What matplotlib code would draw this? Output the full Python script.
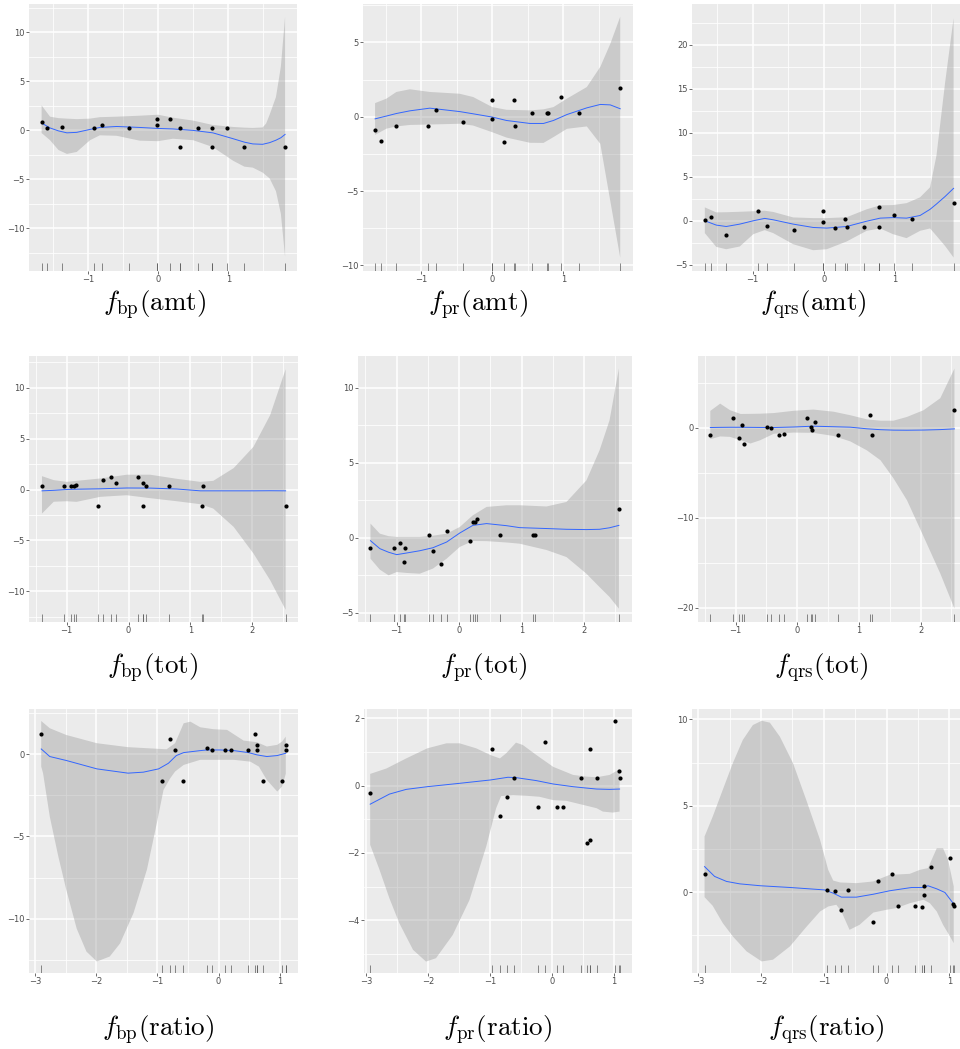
import numpy as np
import matplotlib
matplotlib.use("Agg")
import matplotlib.pyplot as plt

plt.rcParams['mathtext.fontset'] = 'cm'
plt.rcParams['font.family'] = ['DejaVu Sans']

# --- data: (x, y) pairs ---
bp_amt_pts = [(-1.66,0.85),(-1.58,0.24),(-1.37,0.34),(-0.91,0.24),(-0.80,0.55),(-0.42,0.24),(-0.01,1.19),(-0.01,0.55),(0.17,1.19),
              (0.31,0.24),(0.31,-1.70),(0.57,0.24),(0.77,0.24),(0.77,-1.70),(0.98,0.24),(1.23,-1.70),(1.81,-1.70)]
bp_amt_fit = [(-1.66,0.75),(-1.54,0.25),(-1.42,-0.05),(-1.30,-0.25),(-1.16,-0.2),(-0.97,0.1),(-0.83,0.3),(-0.59,0.4),(-0.26,0.3),(0.0,0.2),
              (0.21,0.15),(0.50,0.0),(0.78,-0.25),(1.07,-0.85),(1.23,-1.2),(1.35,-1.38),(1.49,-1.42),(1.59,-1.25),(1.68,-1.0),(1.75,-0.75),(1.81,-0.41)]
bp_amt_up = [(-1.66,2.55),(-1.54,1.4),(-1.42,1.25),(-1.30,1.2),(-1.16,1.15),(-0.97,1.2),(-0.83,1.35),(-0.59,1.4),(-0.26,1.5),(0.0,1.6),
             (0.21,1.3),(0.50,1.0),(0.78,0.55),(1.07,0.35),(1.23,0.28),(1.35,0.25),(1.49,0.3),(1.54,0.7),(1.59,1.6),(1.68,3.4),(1.75,6.5),(1.81,11.6)]
bp_amt_lo = [(-1.66,-0.27),(-1.54,-1.0),(-1.42,-2.0),(-1.30,-2.4),(-1.16,-2.2),(-0.97,-1.0),(-0.83,-0.5),(-0.59,-0.55),(-0.26,-1.05),(0.0,-1.1),
             (0.21,-0.85),(0.50,-1.0),(0.78,-1.7),(1.07,-3.1),(1.23,-3.7),(1.35,-3.8),(1.49,-4.3),(1.59,-4.9),(1.68,-6.2),(1.75,-8.5),(1.81,-12.9)]

pr_amt_pts = [(-1.65,-0.88),(-1.57,-1.62),(-1.36,-0.63),(-0.91,-0.63),(-0.79,0.45),(-0.41,-0.32),(-0.01,1.10),(-0.01,-0.18),(0.16,-1.71),
              (0.30,1.10),(0.32,-0.63),(0.56,0.25),(0.77,0.25),(0.78,0.25),(0.97,1.31),(1.22,0.25),(1.80,1.96)]
pr_amt_x = [-1.65,-1.49,-1.35,-1.16,-0.88,-0.46,-0.27,0.0,0.20,0.53,0.72,0.86,1.05,1.33,1.52,1.66,1.80]
pr_amt_fit = [-0.14,0.05,0.22,0.4,0.58,0.35,0.2,-0.02,-0.25,-0.45,-0.45,-0.25,0.15,0.6,0.83,0.8,0.54]
pr_amt_up = [0.92,1.22,1.67,1.85,1.67,1.55,1.33,0.65,0.47,0.43,0.5,0.65,1.22,2.0,3.36,4.9,6.73]
pr_amt_lo = [-1.22,-0.8,-0.65,-0.55,-0.52,-0.47,-0.59,-1.04,-1.4,-1.75,-1.76,-1.37,-0.81,-0.65,-1.82,-5.65,-9.48]

qrs_amt_pts = [(-1.67,0.08),(-1.59,0.38),(-1.38,-1.67),(-0.92,1.06),(-0.80,-0.61),(-0.42,-1.02),(-0.01,1.06),(-0.01,-0.15),(0.16,-0.80),
               (0.30,0.15),(0.32,-0.76),(0.57,-0.76),(0.78,1.52),(0.78,-0.76),(0.99,0.68),(1.24,0.15),(1.82,2.01)]
qrs_amt_x = [-1.67,-1.51,-1.37,-1.18,-0.99,-0.83,-0.71,-0.43,-0.15,0.04,0.32,0.60,0.79,0.97,1.16,1.35,1.49,1.58,1.70,1.82]
qrs_amt_fit = [0,-0.49,-0.65,-0.38,0,0.27,0.11,-0.38,-0.76,-0.83,-0.65,-0.05,0.3,0.36,0.3,0.6,1.3,1.9,2.75,3.68]
qrs_amt_up = [1.52,0.95,0.97,1.02,1.08,1.14,1.0,0.38,0.3,0.3,0.4,1.3,1.75,1.78,2.0,2.66,3.8,7.4,15.6,23.0]
qrs_amt_lo = [-1.40,-2.96,-3.23,-2.92,-1.52,-1.06,-1.40,-2.66,-3.34,-3.23,-2.35,-1.14,-0.87,-1.52,-1.97,-1.14,-0.87,-1.71,-2.85,-4.17]

bp_tot_pts = [(-1.40,0.33),(-1.04,0.33),(-0.93,0.33),(-0.88,0.33),(-0.85,0.46),(-0.49,-1.60),(-0.42,0.92),(-0.29,1.24),(-0.20,0.59),
              (0.16,1.24),(0.24,0.59),(0.23,-1.60),(0.28,0.33),(0.66,0.33),(1.19,-1.60),(1.20,0.33),(2.54,-1.60)]
bp_tot_x = [-1.40,-1.21,-1.0,-0.84,-0.46,-0.03,0.35,0.78,1.16,1.37,1.70,2.02,2.29,2.54]
bp_tot_fit = [-0.13,-0.08,0,0.03,0.07,0.15,0.14,0.05,-0.13,-0.13,-0.13,-0.13,-0.12,-0.13]
bp_tot_up = [1.31,0.92,0.75,0.85,1.08,1.45,1.45,1.05,0.75,0.85,2.1,4.19,7.3,11.8]
bp_tot_lo = [-2.36,-1.2,-1.15,-1.21,-0.72,-0.56,-0.85,-1.15,-1.44,-1.87,-3.67,-6.28,-8.9,-11.8]

pr_tot_pts = [(-1.42,-0.64),(-1.05,-0.64),(-0.95,-0.33),(-0.89,-1.62),(-0.86,-0.64),(-0.49,0.22),(-0.42,-0.89),(-0.29,-1.73),(-0.20,0.44),
              (0.17,-0.22),(0.22,1.07),(0.25,1.07),(0.28,1.29),(0.66,0.22),(1.19,0.22),(1.21,0.22),(2.56,1.96)]
pr_tot_x = [-1.42,-1.27,-1.13,-1.00,-0.84,-0.63,-0.42,-0.20,0.01,0.22,0.44,0.76,0.97,1.40,1.72,2.04,2.25,2.41,2.56]
pr_tot_fit = [-0.18,-0.71,-0.95,-1.11,-1.0,-0.85,-0.65,-0.27,0.33,0.84,0.96,0.82,0.69,0.63,0.58,0.56,0.58,0.68,0.84]
pr_tot_up = [0.96,0.29,0.12,0.07,0.07,0.07,0.15,0.29,0.73,1.51,2.07,2.18,2.18,2.1,2.4,3.84,5.84,7.84,11.3]
pr_tot_lo = [-1.38,-2.11,-2.49,-2.27,-2.33,-2.38,-2.04,-1.38,-0.60,-0.20,-0.21,-0.30,-0.38,-0.80,-1.27,-2.38,-3.27,-3.93,-4.71]

qrs_tot_pts = [(-1.41,-0.78),(-1.04,1.08),(-0.94,-1.08),(-0.89,0.37),(-0.86,-1.74),(-0.49,0.15),(-0.42,0.04),(-0.29,-0.82),(-0.21,-0.63),
               (0.16,1.08),(0.22,0.15),(0.24,-0.19),(0.28,0.63),(0.66,-0.78),(1.18,1.48),(1.21,-0.78),(2.55,1.97)]
qrs_tot_x = [-1.41,-1.25,-1.09,-0.92,-0.76,-0.60,-0.38,-0.06,0.26,0.59,0.86,1.13,1.35,1.56,1.78,2.05,2.32,2.55]
qrs_tot_fit = [0.04,0.06,0.07,0.07,0.06,0.05,0.04,0.1,0.19,0.13,0.08,-0.1,-0.2,-0.25,-0.26,-0.24,-0.19,-0.11]
qrs_tot_up = [1.89,2.7,1.97,1.55,1.56,1.58,1.65,1.9,2.04,1.8,1.41,0.95,0.8,0.8,1.22,1.97,3.3,6.6]
qrs_tot_lo = [-1.26,-0.95,-1.0,-1.37,-1.74,-1.37,-0.65,-0.52,-0.55,-0.9,-1.5,-2.5,-3.6,-5.6,-8.05,-12.1,-16.2,-20.1]

bp_ratio_pts = [(-2.90,1.23),(-0.93,-1.64),(-0.80,0.91),(-0.71,0.26),(-0.58,-1.64),(-0.19,0.38),(-0.10,0.26),(0.11,0.26),(0.20,0.26),
                (0.49,0.26),(0.59,1.23),(0.63,0.59),(0.63,0.26),(0.73,-1.64),(1.04,-1.64),(1.10,0.59),(1.10,0.26)]
bp_ratio_fit = [(-2.90,0.32),(-2.76,-0.14),(-2.49,-0.38),(-1.99,-0.89),(-1.48,-1.15),(-1.23,-1.09),(-0.98,-0.89),(-0.82,-0.55),(-0.69,-0.08),
                (-0.57,0.10),(-0.30,0.22),(-0.19,0.26),(0.03,0.26),(0.25,0.22),(0.49,0.10),(0.63,-0.04),(0.79,-0.14),(0.96,-0.08),(1.10,0.06)]
bp_ratio_up = [(-2.90,2.02),(-2.76,1.58),(-2.49,1.17),(-1.99,0.67),(-1.48,0.43),(-0.85,0.30),(-0.71,0.67),(-0.57,1.88),(-0.46,1.98),
               (-0.30,1.64),(-0.08,1.52),(0.14,1.48),(0.41,0.83),(0.63,0.73),(0.79,0.47),(0.96,0.57),(1.04,0.77),(1.10,1.07)]
bp_ratio_lo = [(-2.90,-0.75),(-2.87,-1.15),(-2.76,-3.79),(-2.62,-6.22),(-2.49,-8.24),(-2.32,-10.6),(-2.16,-12.0),(-1.99,-12.6),(-1.78,-12.3),
               (-1.61,-11.5),(-1.39,-9.65),(-1.17,-7.0),(-1.01,-4.2),(-0.90,-2.17),(-0.79,-1.46),(-0.71,-1.05),(-0.57,-0.65),(-0.30,-0.34),
               (-0.03,-0.34),(0.25,-0.34),(0.52,-0.45),(0.66,-0.75),(0.79,-1.56),(0.96,-2.27),(1.04,-1.96),(1.10,-1.19)]

pr_ratio_pts = [(-2.93,-0.21),(-0.96,1.08),(-0.83,-0.89),(-0.73,-0.34),(-0.61,0.22),(-0.22,-0.63),(-0.12,1.29),(0.08,-0.63),(0.18,-0.63),
                (0.47,0.22),(0.57,-1.70),(0.61,1.08),(0.62,-1.62),(0.72,0.22),(1.02,1.93),(1.08,0.44),(1.09,0.22)]
pr_ratio_fit = [(-2.93,-0.55),(-2.62,-0.25),(-2.35,-0.11),(-2.01,-0.03),(-1.49,0.07),(-0.99,0.17),(-0.71,0.25),(-0.58,0.24),(-0.25,0.15),
                (0.02,0.05),(0.34,-0.03),(0.55,-0.07),(0.72,-0.10),(0.93,-0.11),(1.09,-0.10)]
pr_ratio_up = [(-2.93,0.35),(-2.67,0.51),(-2.35,0.81),(-2.01,1.11),(-1.70,1.26),(-1.49,1.26),(-1.22,1.11),(-0.99,0.91),(-0.84,0.81),
               (-0.74,0.96),(-0.58,1.28),(-0.47,1.21),(-0.25,0.91),(0.02,0.56),(0.34,0.32),(0.55,0.27),(0.72,0.25),(0.93,0.32),(1.09,0.49)]
pr_ratio_lo = [(-2.93,-1.76),(-2.78,-2.50),(-2.62,-3.35),(-2.46,-4.09),(-2.24,-4.88),(-2.03,-5.23),(-1.87,-5.13),(-1.60,-4.44),(-1.33,-3.40),
               (-1.06,-1.81),(-0.90,-0.67),(-0.82,-0.31),(-0.63,-0.28),(-0.41,-0.30),(-0.20,-0.33),(0.02,-0.43),(0.23,-0.45),(0.50,-0.57),
               (0.72,-0.67),(0.82,-0.77),(0.98,-0.80),(1.09,-0.77)]

qrs_ratio_pts = [(-2.90,1.06),(-0.95,0.13),(-0.82,0.04),(-0.73,-1.06),(-0.61,0.13),(-0.21,-1.71),(-0.13,0.64),(0.08,1.06),(0.18,-0.79),
                 (0.46,-0.79),(0.56,-0.85),(0.60,0.37),(0.60,-0.19),(0.70,1.46),(1.01,1.97),(1.06,-0.67),(1.07,-0.79)]
qrs_ratio_fit = [(-2.90,1.48),(-2.74,0.91),(-2.55,0.62),(-2.34,0.48),(-2.01,0.37),(-1.54,0.27),(-0.99,0.13),(-0.85,-0.06),(-0.72,-0.29),
                 (-0.48,-0.29),(-0.21,-0.12),(0.05,0.08),(0.40,0.27),(0.59,0.27),(0.66,0.37),(0.80,0.19),(0.93,-0.02),(1.07,-0.69)]
qrs_ratio_up = [(-2.90,3.22),(-2.77,4.37),(-2.61,5.92),(-2.45,7.46),(-2.29,8.81),(-2.13,9.67),(-1.99,9.92),(-1.86,9.81),(-1.70,9.0),
                (-1.49,7.46),(-1.28,5.34),(-1.06,3.03),(-0.93,1.29),(-0.85,0.67),(-0.74,0.56),(-0.48,0.52),(-0.21,0.62),(-0.11,0.77),
                (0.05,1.0),(0.37,1.06),(0.53,1.29),(0.66,1.39),(0.80,2.54),(0.90,2.54),(0.98,1.87),(1.07,0.33)]
qrs_ratio_lo = [(-2.90,-0.29),(-2.77,-0.79),(-2.61,-1.79),(-2.45,-2.56),(-2.23,-3.43),(-1.99,-4.01),(-1.81,-3.91),(-1.54,-3.14),(-1.28,-2.02),
                (-1.06,-1.12),(-0.93,-0.83),(-0.80,-0.73),(-0.72,-1.12),(-0.59,-2.18),(-0.43,-1.89),(-0.21,-1.18),(0.0,-1.02),(0.16,-0.92),
                (0.37,-0.64),(0.59,-0.44),(0.69,-0.64),(0.80,-1.12),(0.90,-1.89),(1.01,-2.56),(1.07,-2.95)]

labels = [r'$f_{\mathrm{bp}}(\mathrm{amt})$', r'$f_{\mathrm{pr}}(\mathrm{amt})$', r'$f_{\mathrm{qrs}}(\mathrm{amt})$',
          r'$f_{\mathrm{bp}}(\mathrm{tot})$', r'$f_{\mathrm{pr}}(\mathrm{tot})$', r'$f_{\mathrm{qrs}}(\mathrm{tot})$',
          r'$f_{\mathrm{bp}}(\mathrm{ratio})$', r'$f_{\mathrm{pr}}(\mathrm{ratio})$', r'$f_{\mathrm{qrs}}(\mathrm{ratio})$']


def pairs(p):
    a = np.array(p, dtype=float)
    return a[:, 0], a[:, 1]


def curve(xs, ys):
    return np.asarray(xs, float), np.asarray(ys, float)


panels = [
    (pairs(bp_amt_pts), pairs(bp_amt_fit), pairs(bp_amt_up), pairs(bp_amt_lo)),
    (pairs(pr_amt_pts), curve(pr_amt_x, pr_amt_fit), curve(pr_amt_x, pr_amt_up), curve(pr_amt_x, pr_amt_lo)),
    (pairs(qrs_amt_pts), curve(qrs_amt_x, qrs_amt_fit), curve(qrs_amt_x, qrs_amt_up), curve(qrs_amt_x, qrs_amt_lo)),
    (pairs(bp_tot_pts), curve(bp_tot_x, bp_tot_fit), curve(bp_tot_x, bp_tot_up), curve(bp_tot_x, bp_tot_lo)),
    (pairs(pr_tot_pts), curve(pr_tot_x, pr_tot_fit), curve(pr_tot_x, pr_tot_up), curve(pr_tot_x, pr_tot_lo)),
    (pairs(qrs_tot_pts), curve(qrs_tot_x, qrs_tot_fit), curve(qrs_tot_x, qrs_tot_up), curve(qrs_tot_x, qrs_tot_lo)),
    (pairs(bp_ratio_pts), pairs(bp_ratio_fit), pairs(bp_ratio_up), pairs(bp_ratio_lo)),
    (pairs(pr_ratio_pts), pairs(pr_ratio_fit), pairs(pr_ratio_up), pairs(pr_ratio_lo)),
    (pairs(qrs_ratio_pts), pairs(qrs_ratio_fit), pairs(qrs_ratio_up), pairs(qrs_ratio_lo)),
]

# panel boxes in pixels (left, top, right, bottom)
boxes = [(29, 4, 297, 271), (363, 4, 633, 271), (692, 4, 960, 271),
         (29, 356, 298, 622), (358, 356, 632, 622), (698, 356, 960, 622),
         (29, 709, 298, 973), (364, 709, 632, 973), (692, 709, 960, 973)]
xlims = [(-1.84, 1.98), (-1.82, 1.98), (-1.85, 1.91),
         (-1.61, 2.74), (-1.62, 2.77), (-1.61, 2.64),
         (-3.10, 1.30), (-3.03, 1.29), (-3.10, 1.17)]
ylims = [(-14.35, 12.9), (-10.38, 7.59), (-5.7, 24.6),
         (-13.0, 13.1), (-5.6, 12.13), (-21.6, 8.0),
         (-13.3, 2.75), (-5.57, 2.28), (-4.68, 10.6)]
xticks = [[-1, 0, 1]] * 3 + [[-1, 0, 1, 2]] * 3 + [[-3, -2, -1, 0, 1]] * 3
yticks = [[-10, -5, 0, 5, 10], [-10, -5, 0, 5], [-5, 0, 5, 10, 15, 20],
          [-10, -5, 0, 5, 10], [-5, 0, 5, 10], [-20, -10, 0],
          [-10, -5, 0], [-4, -2, 0, 2], [0, 5, 10]]
label_pos = [(155, 305), (478, 305), (813, 305),
             (152, 668), (484, 668), (821, 668),
             (158, 1030), (497, 1030), (826, 1030)]

W, H = 960, 1049
fig = plt.figure(figsize=(W / 100, H / 100), dpi=100)


def minors(major, lim):
    step = major[1] - major[0]
    m = np.arange(major[0] - step / 2, major[-1] + step, step)
    return [v for v in m if lim[0] <= v <= lim[1]]


for i in range(9):
    l, t, r, b = boxes[i]
    ax = fig.add_axes([l / W, 1 - b / H, (r - l) / W, (b - t) / H])
    ax.set_facecolor('#EBEBEB')
    for s in ax.spines.values():
        s.set_visible(False)
    (px, py), (fx, fy), (ux, uy), (lx, ly) = panels[i]

    ax.set_xlim(*xlims[i])
    ax.set_ylim(*ylims[i])
    ax.set_xticks(xticks[i])
    ax.set_yticks(yticks[i])
    ax.set_xticks(minors(xticks[i], xlims[i]), minor=True)
    ax.set_yticks(minors(yticks[i], ylims[i]), minor=True)
    ax.grid(True, which='major', color='white', lw=1.1)
    ax.grid(True, which='minor', color='white', lw=0.55)
    ax.set_axisbelow(True)
    ax.tick_params(which='major', length=2, width=0.5, color='#333333',
                   labelsize=6, labelcolor='#4D4D4D', pad=1.2)
    ax.tick_params(which='minor', length=0)

    ax.fill(np.r_[ux, lx[::-1]], np.r_[uy, ly[::-1]], color='#999999', alpha=0.4, lw=0, zorder=2)
    ax.plot(fx, fy, color='#3366FF', lw=0.7, zorder=3)
    ax.scatter(px, py, s=9, color='black', lw=0, zorder=4)
    ax.vlines(px, 0, 0.03, transform=ax.get_xaxis_transform(), color='#555555', lw=0.6, alpha=0.8, zorder=3)

    cx, cy = label_pos[i]
    fig.text(cx / W, 1 - cy / H, labels[i], fontsize=19.5, ha='center', va='center')

fig.savefig('out.png', dpi=100)
